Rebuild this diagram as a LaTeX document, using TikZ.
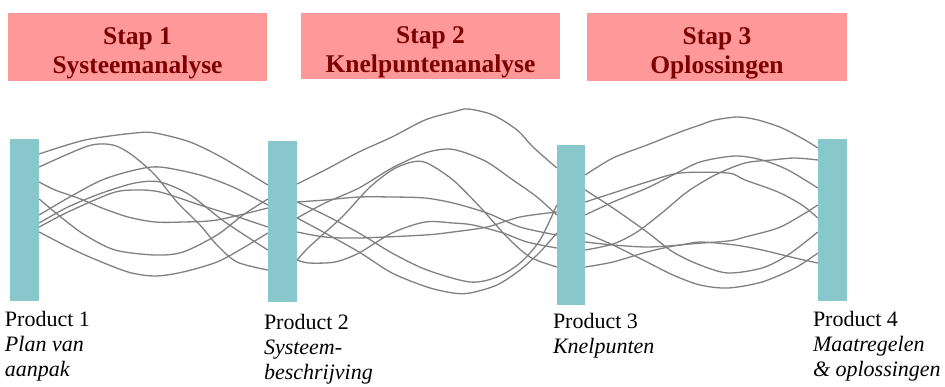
\documentclass[tikz,border=0pt]{standalone}
\usepackage{fontspec}
\setmainfont{Liberation Serif}
\begin{document}
\begin{tikzpicture}[x=1pt,y=-1pt,
  stepbox/.style={fill=stepfill, draw=none, inner sep=0pt, align=center,
    text=steptext, font=\fontsize{25.5}{29}\selectfont\bfseries},
  productbar/.style={fill=barteal, draw=none, inner sep=0pt},
  productlabel/.style={anchor=north west, inner sep=0pt, align=left,
    font=\fontsize{22}{25}\selectfont},
  flow/.style={draw=flowgray, line width=1.3pt, line join=round}]
\definecolor{stepfill}{RGB}{255,153,153}
\definecolor{steptext}{RGB}{125,0,0}
\definecolor{barteal}{RGB}{136,200,204}
\definecolor{flowgray}{RGB}{128,128,128}
\useasboundingbox (0,0) rectangle (945,386);

% step headers
\node[stepbox, minimum width=259pt, minimum height=68pt] (st1) at (137.5,47)
  {\rule{0pt}{29pt}Stap 1\\Systeemanalyse};
\node[stepbox, minimum width=259pt, minimum height=66pt] (st2) at (430.5,46)
  {\rule{0pt}{29pt}Stap 2\\Knelpuntenanalyse};
\node[stepbox, minimum width=260pt, minimum height=68pt] (st3) at (717,47)
  {\rule{0pt}{29pt}Stap 3\\Oplossingen};

% product bars
\node[productbar, minimum width=29pt, minimum height=162pt] (b1) at (24.5,220) {};
\node[productbar, minimum width=29pt, minimum height=161pt] (b2) at (282.5,221.5) {};
\node[productbar, minimum width=28pt, minimum height=160pt] (b3) at (571,225) {};
\node[productbar, minimum width=29pt, minimum height=162pt] (b4) at (832.5,220) {};

% flows between product 1 and product 2
\begin{scope}[smooth, tension=0.5]
\draw[flow] plot coordinates {(b1.east|-0,154) (85,140) (135,133) (155,133) (190,142) (223,158) (b2.west|-0,185)};
\draw[flow] plot coordinates {(b1.east|-0,167) (88,146) (113,145) (132,155) (155,175) (177,202) (200,225) (217,245) (237,262) (b2.west|-0,270)};
\draw[flow] plot coordinates {(b1.east|-0,182) (55,190) (78,198) (102,208) (128,217) (155,222) (183,222) (217,220) (b2.west|-0,208)};
\draw[flow] plot coordinates {(b1.east|-0,199) (62,218) (85,235) (115,250) (155,255) (183,252) (217,235) (243,215) (b2.west|-0,199)};
\draw[flow] plot coordinates {(b1.east|-0,215) (68,198) (102,180) (135,170) (160,167) (200,175) (233,187) (b2.west|-0,205)};
\draw[flow] plot coordinates {(b1.east|-0,223) (68,207) (102,193) (135,183) (160,182) (190,195) (225,222) (b2.west|-0,250)};
\draw[flow] plot coordinates {(b1.east|-0,227) (68,212) (112,193) (135,190) (160,192) (200,205) (235,216) (b2.west|-0,227)};
\draw[flow] plot coordinates {(b1.east|-0,232) (68,247) (92,258) (128,272) (155,276) (183,272) (217,262) (243,248) (b2.west|-0,233)};

% flows between product 2 and product 3
\draw[flow] plot coordinates {(b2.east|-0,184) (325,170) (359,152) (392,137) (425,120) (453,112) (468,109) (493,115) (517,130) (533,147) (b3.west|-0,168)};
\draw[flow] plot coordinates {(b2.east|-0,218) (325,203) (359,188) (392,168) (425,153) (447,149) (463,152) (487,162) (513,180) (537,197) (b3.west|-0,215)};
\draw[flow] plot coordinates {(b2.east|-0,260) (309,247) (342,217) (369,188) (392,170) (412,162) (427,163) (453,180) (480,207) (507,237) (530,257) (b3.west|-0,267)};
\draw[flow] plot coordinates {(b2.east|-0,202) (325,200) (359,197) (392,197) (425,198) (453,203) (487,213) (520,227) (b3.west|-0,235)};
\draw[flow] plot coordinates {(b2.east|-0,260) (309,263) (335,262) (359,253) (392,233) (425,222) (453,223) (473,225) (503,233) (527,242) (b3.west|-0,248)};
\draw[flow] plot coordinates {(b2.east|-0,232) (325,237) (359,238) (425,235) (453,232) (487,227) (520,217) (b3.west|-0,212)};
\draw[flow] plot coordinates {(b2.east|-0,202) (325,215) (359,233) (392,253) (427,270) (470,282) (497,277) (520,263) (540,240) (b3.west|-0,205)};
\draw[flow] plot coordinates {(b2.east|-0,218) (325,233) (359,252) (392,273) (427,287) (453,293) (470,293) (497,285) (520,270) (540,252) (b3.west|-0,233)};

% flows between product 3 and product 4
\draw[flow] plot coordinates {(b3.east|-0,175) (613,158) (647,145) (680,132) (700,125) (715,120) (738,117) (758,120) (782,128) (805,140) (b4.west|-0,148)};
\draw[flow] plot coordinates {(b3.east|-0,190) (613,208) (647,232) (673,252) (700,265) (728,273) (762,268) (788,255) (b4.west|-0,232)};
\draw[flow] plot coordinates {(b3.east|-0,202) (613,193) (647,182) (680,173) (728,173) (745,180) (778,192) (802,205) (b4.west|-0,218)};
\draw[flow] plot coordinates {(b3.east|-0,215) (613,202) (647,188) (673,175) (700,162) (735,156) (762,160) (788,170) (b4.west|-0,188)};
\draw[flow] plot coordinates {(b3.east|-0,233) (613,245) (647,262) (673,275) (700,285) (728,288) (762,282) (795,268) (b4.west|-0,253)};
\draw[flow] plot coordinates {(b3.east|-0,242) (613,245) (647,247) (680,245) (700,242) (735,245) (762,250) (795,258) (b4.west|-0,263)};
\draw[flow] plot coordinates {(b3.east|-0,250) (613,244) (637,232) (663,212) (687,192) (715,175) (745,163) (772,160) (795,158) (b4.west|-0,160)};
\draw[flow] plot coordinates {(b3.east|-0,267) (613,262) (647,252) (680,245) (728,241) (745,237) (778,228) (802,215) (b4.west|-0,205)};
\end{scope}

% product captions
\node[productlabel] (l1) at ([xshift=-5pt,yshift=-10pt]b1.south west)
  {Product 1\\\textit{Plan van}\\\textit{aanpak}};
\node[productlabel] (l2) at ([xshift=-4pt,yshift=-12pt]b2.south west)
  {Product 2\\\textit{Systeem-}\\\textit{beschrijving}};
\node[productlabel] (l3) at ([xshift=-4pt,yshift=-8pt]b3.south west)
  {Product 3\\\textit{Knelpunten}};
\node[productlabel] (l4) at ([xshift=-5pt,yshift=-10pt]b4.south west)
  {Product 4\\\textit{Maatregelen}\\\textit{\& oplossingen}};
\end{tikzpicture}
\end{document}
